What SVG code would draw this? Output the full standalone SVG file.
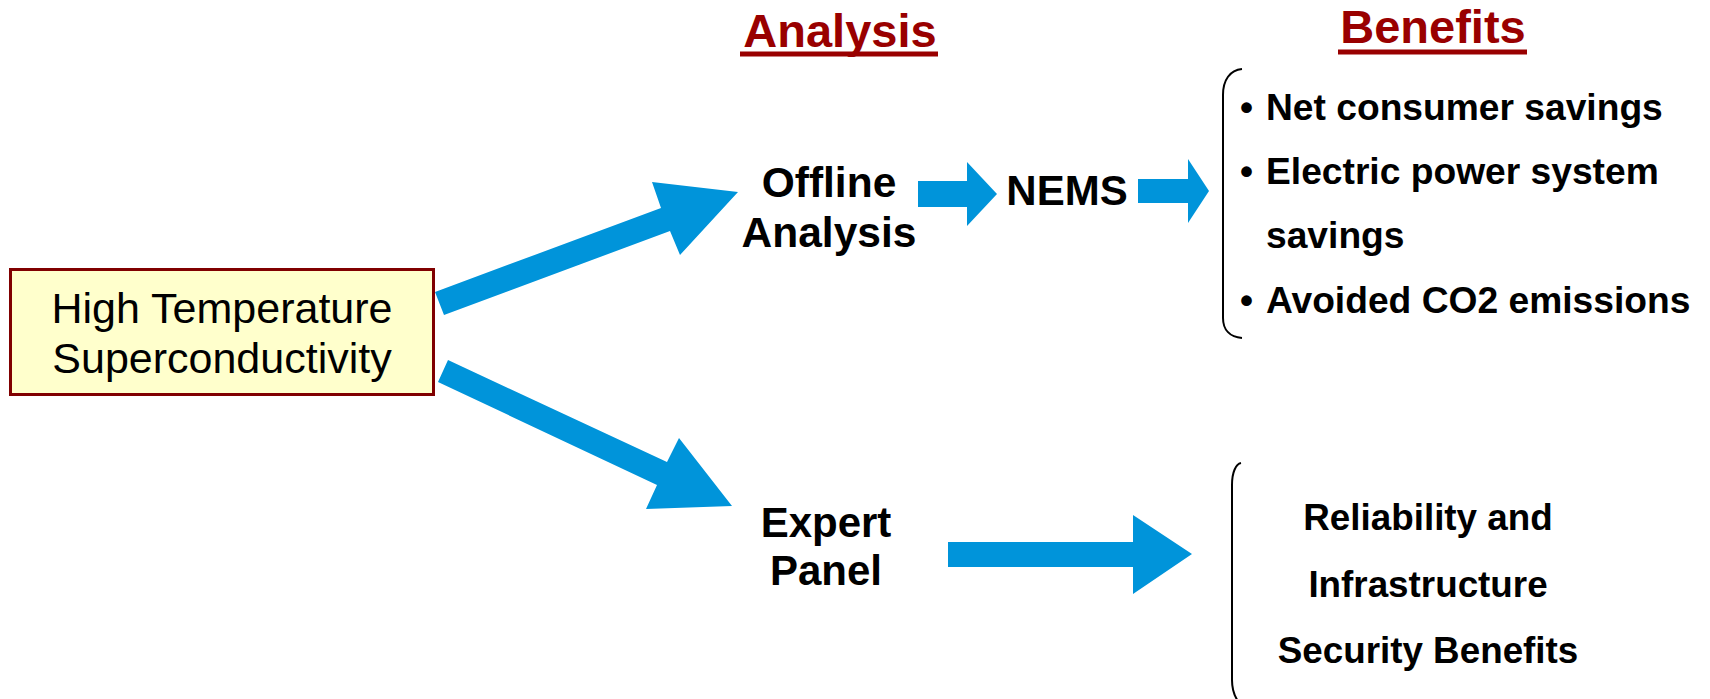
<svg xmlns="http://www.w3.org/2000/svg" width="1710" height="699" viewBox="0 0 1710 699">
  <style>
    .lbl { font-family: "Liberation Sans", Arial, sans-serif; font-weight: bold; fill: #000; }
    .head { font-family: "Liberation Sans", Arial, sans-serif; font-weight: bold; fill: #990000; font-size: 47px; text-anchor: middle; }
    .uline { stroke: #990000; stroke-width: 5; }
    .arrow { fill: #0094DA; }
    .brace { fill: none; stroke: #000; stroke-width: 2; }
  </style>
  <rect width="1710" height="699" fill="#FFFFFF"/>

  <!-- column headings -->
  <g id="heading-analysis">
    <text class="head" x="840" y="47">Analysis</text>
    <line class="uline" x1="740" y1="54" x2="938" y2="54"/>
  </g>
  <g id="heading-benefits">
    <text class="head" x="1433" y="43" font-size="47.5">Benefits</text>
    <line class="uline" x1="1338" y1="52" x2="1527" y2="52"/>
  </g>

  <!-- source node -->
  <g id="node-hts">
    <rect x="10.5" y="269.5" width="423" height="125" fill="#FFFFCC" stroke="#800000" stroke-width="3"/>
    <text font-family="'Liberation Sans', Arial, sans-serif" font-size="43" text-anchor="middle" x="222" y="323">High Temperature</text>
    <text font-family="'Liberation Sans', Arial, sans-serif" font-size="43" text-anchor="middle" x="222" y="373">Superconductivity</text>
  </g>

  <g id="node-offline">
    <text class="lbl" font-size="42.5" text-anchor="middle" x="829" y="197">Offline</text>
    <text class="lbl" font-size="42.5" text-anchor="middle" x="829" y="247">Analysis</text>
  </g>

  <g id="node-nems">
    <text class="lbl" font-size="42" text-anchor="middle" x="1067" y="205">NEMS</text>
  </g>

  <g id="node-expert">
    <text class="lbl" font-size="42" text-anchor="middle" x="826" y="537">Expert</text>
    <text class="lbl" font-size="42" text-anchor="middle" x="826" y="585">Panel</text>
  </g>

  <g id="node-benefits-quantified">
    <path class="brace" d="M1242,69 C1230,70 1223,80 1223,95 L1223,318 C1223,330 1230,337 1242,338"/>
    <g class="lbl" font-size="37.2">
      <text x="1240" y="120">•</text><text x="1266" y="120">Net consumer savings</text>
      <text x="1240" y="184">•</text><text x="1266" y="184">Electric power system</text>
      <text x="1266" y="248">savings</text>
      <text x="1240" y="313">•</text><text x="1266" y="313">Avoided CO2 emissions</text>
    </g>
  </g>

  <g id="node-benefits-reliability">
    <path class="brace" d="M1241,463 C1236,464 1232,472 1232,485 L1232,680 C1232,692 1236,700 1242,706"/>
    <g class="lbl" font-size="36.8" text-anchor="middle">
      <text x="1428" y="530">Reliability and</text>
      <text x="1428" y="597">Infrastructure</text>
      <text x="1428" y="663">Security Benefits</text>
    </g>
  </g>

  <!-- connectors: block arrows -->
  <g id="connectors">
    <polygon class="arrow" points="435,292 661,208 652,182 738,192 680,255 670,231 444,315"/>
    <polygon class="arrow" points="448,360 667,462 679,438 732,506 646,509 657,485 438,382"/>
    <polygon class="arrow" points="918,181 967,181 967,162 997,194 967,226 967,207 918,207"/>
    <polygon class="arrow" points="1138,179 1188,179 1188,159 1209,191 1188,223 1188,203 1138,203"/>
    <polygon class="arrow" points="948,542 1133,542 1133,515 1192,554 1133,594 1133,567 948,567"/>
  </g>
</svg>
